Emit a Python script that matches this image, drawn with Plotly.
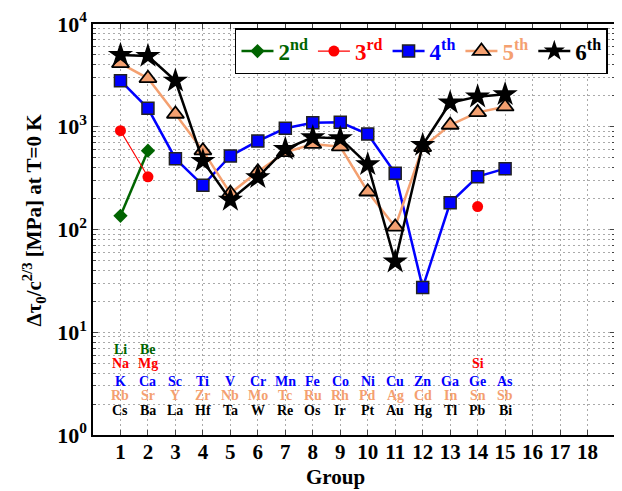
import plotly.graph_objects as go
import numpy as np

groups = list(range(1, 16))
g2_x = [1, 2]
g2_y = [136, 585]
g3_x = [1, 2]
g3_y = [915, 326]
g3_si_x = [14]
g3_si_y = [167]
g4_y = [2806, 1511, 489, 269, 519, 726, 966, 1096, 1105, 850, 352, 27.2, 182, 327, 391]
g5_y = [4140, 2960, 1330, 585, 225, 365, 564, 679, 640, 233, 106, 631, 1040, 1380, 1567]
g6_y = [4990, 4880, 2800, 464, 194, 322, 607, 789, 771, 431, 48.6, 664, 1714, 1963, 2069]

row_li = ["Li", "Be"]
row_na = ["Na", "Mg"]
row_k = ["K", "Ca", "Sc", "Ti", "V", "Cr", "Mn", "Fe", "Co", "Ni", "Cu", "Zn", "Ga", "Ge", "As"]
row_rb = ["Rb", "Sr", "Y", "Zr", "Nb", "Mo", "Tc", "Ru", "Rh", "Pd", "Ag", "Cd", "In", "Sn", "Sb"]
row_cs = ["Cs", "Ba", "La", "Hf", "Ta", "W", "Re", "Os", "Ir", "Pt", "Au", "Hg", "Tl", "Pb", "Bi"]

GREEN = "#006400"
RED = "#FF0000"
BLUE = "#0000FF"
ORANGE = "#F4A070"
BLACK = "#000000"
FONT = "Liberation Serif, Times New Roman, serif"
GRID = "#aaaaaa"
DASH = "2px,3px"

fig = go.Figure()

def nm(txt, sup, col):
    return f'<span style="color:{col}"><b>{txt}<sup>{sup}</sup></b></span>'

fig.add_trace(go.Scatter(x=g2_x, y=g2_y, mode="lines+markers", name=nm("2", "nd", GREEN),
                         line=dict(color=GREEN, width=2.5),
                         marker=dict(symbol="diamond", size=11, color=GREEN)))
fig.add_trace(go.Scatter(x=g3_x, y=g3_y, mode="lines+markers", name=nm("3", "rd", RED),
                         line=dict(color=RED, width=1.2),
                         marker=dict(symbol="circle", size=11, color=RED)))
fig.add_trace(go.Scatter(x=g3_si_x, y=g3_si_y, mode="markers", showlegend=False,
                         marker=dict(symbol="circle", size=11, color=RED)))
fig.add_trace(go.Scatter(x=groups, y=g4_y, mode="lines+markers", name=nm("4", "th", BLUE),
                         line=dict(color=BLUE, width=2.5),
                         marker=dict(symbol="square", size=12, color=BLUE,
                                     line=dict(color="#222", width=1.5))))
fig.add_trace(go.Scatter(x=groups, y=g5_y, mode="lines+markers", name=nm("5", "th", ORANGE),
                         line=dict(color=ORANGE, width=2.5),
                         marker=dict(symbol="triangle-up", size=15, color=ORANGE,
                                     line=dict(color="#000", width=1.8))))
fig.add_trace(go.Scatter(x=groups, y=g6_y, mode="lines+markers", name=nm("6", "th", BLACK),
                         line=dict(color=BLACK, width=2.5),
                         marker=dict(symbol="star", size=19, color=BLACK,
                                     line=dict(color="#000", width=0))))

rows = [(row_li, GREEN, 6.87), (row_na, RED, 4.91), (row_k, BLUE, 3.35),
        (row_rb, ORANGE, 2.40), (row_cs, BLACK, 1.72)]
for labels, col, yv in rows:
    for i, lab in enumerate(labels):
        fig.add_annotation(x=i + 1, y=np.log10(yv), text=f"<b>{lab}</b>", showarrow=False,
                           font=dict(family=FONT, size=14, color=col), xref="x", yref="y")
fig.add_annotation(x=14, y=np.log10(4.91), text="<b>Si</b>", showarrow=False,
                   font=dict(family=FONT, size=14, color=RED), xref="x", yref="y")

# axis titles
fig.add_annotation(x=0.465, y=-0.102, xref="paper", yref="paper", text="<b>Group</b>",
                   showarrow=False, xanchor="center", yanchor="middle",
                   font=dict(family=FONT, size=21, color="black"))
fig.add_annotation(x=-0.114, y=0.523, xref="paper", yref="paper",
                   text="<b>Δτ<sub>0</sub>/c<sup>2/3</sup> [MPa] at T=0 K</b>",
                   showarrow=False, xanchor="center", yanchor="middle", textangle=-90,
                   font=dict(family=FONT, size=21, color="black"))

# page body has an 8px default margin: size and margins compensate for it
fig.update_layout(
    width=614, height=483,
    margin=dict(l=85, r=7, t=16, b=56, autoexpand=False),
    paper_bgcolor="white", plot_bgcolor="white",
    font=dict(family=FONT, color="black"),
    legend=dict(orientation="h", x=0.272, y=0.99, xanchor="left", yanchor="top",
                bgcolor="white", bordercolor="black", borderwidth=1.5,
                font=dict(family=FONT, size=23), itemwidth=32, tracegroupgap=0),
    showlegend=True,
)
fig.update_xaxes(range=[0, 19], tickvals=list(range(1, 19)),
                 ticktext=[f"<b>{i}</b>" for i in range(1, 19)],
                 tickfont=dict(family=FONT, size=21), ticks="inside", ticklen=5,
                 ticklabelstandoff=-3, automargin=False,
                 showline=True, linecolor="black", linewidth=1.5, mirror="allticks",
                 showgrid=True, gridcolor=GRID, griddash=DASH, gridwidth=1,
                 zeroline=False)
fig.update_yaxes(type="log", range=[0, 4], tickvals=[1, 10, 100, 1000, 10000],
                 ticktext=["<b>10<sup>0</sup></b>", "<b>10<sup>1</sup></b>", "<b>10<sup>2</sup></b>",
                           "<b>10<sup>3</sup></b>", "<b>10<sup>4</sup></b>"],
                 tickfont=dict(family=FONT, size=22), ticks="inside", ticklen=5,
                 automargin=False,
                 showline=True, linecolor="black", linewidth=1.5, mirror="allticks",
                 showgrid=True, gridcolor=GRID, griddash=DASH, gridwidth=1,
                 minor=dict(dtick="D1", showgrid=True, gridcolor=GRID, griddash=DASH,
                            ticks="inside", ticklen=3),
                 zeroline=False)

fig.write_html("out.html")
